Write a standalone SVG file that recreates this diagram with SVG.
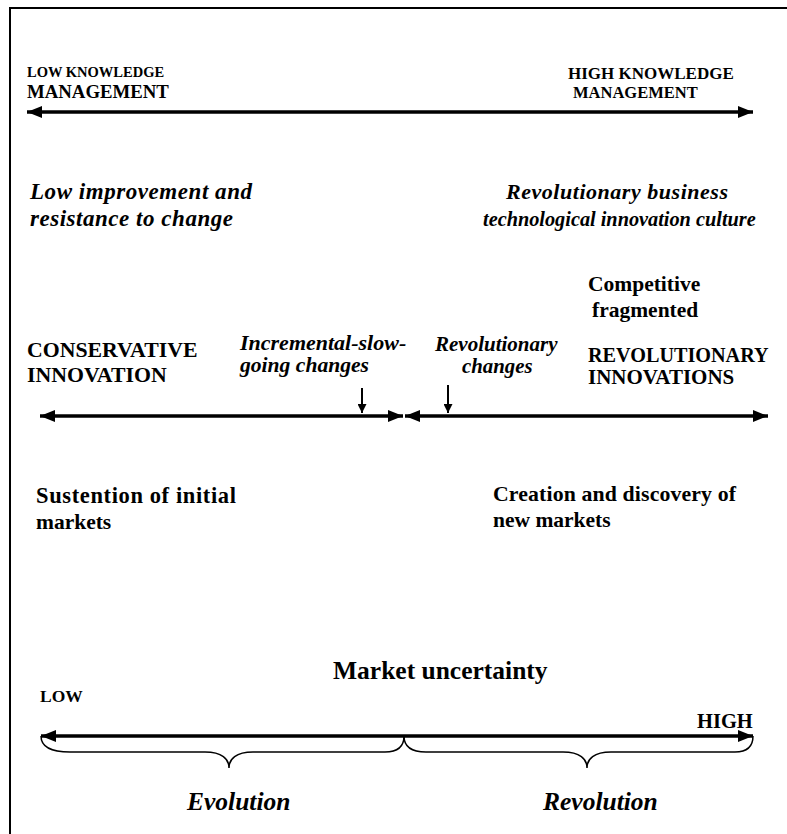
<svg xmlns="http://www.w3.org/2000/svg" width="787" height="834" viewBox="0 0 787 834">
<defs>
<style>
text{font-family:"Liberation Serif","Times New Roman",serif;font-weight:bold;fill:#000}
.i{font-style:italic}
.ln{stroke:#000;fill:none}
</style>
<marker id="ah" viewBox="0 0 10 10" refX="10" refY="5" markerWidth="4.3" markerHeight="3.4" orient="auto-start-reverse" markerUnits="strokeWidth" preserveAspectRatio="none"><path d="M0,0 L10,5 L0,10 z" fill="#000"/></marker>
<marker id="sh" viewBox="0 0 10 10" refX="10" refY="5" markerWidth="4.5" markerHeight="4.5" orient="auto" markerUnits="strokeWidth" preserveAspectRatio="none"><path d="M0,0 L10,5 L0,10 z" fill="#000"/></marker>
</defs>
<rect width="787" height="834" fill="#fff"/>
<path class="ln" d="M10,834 L10,8 L787,8" stroke-width="2"/>
<g id="connectors">
<line class="ln" x1="27" y1="112" x2="753" y2="112" stroke-width="3.5" marker-start="url(#ah)" marker-end="url(#ah)"/>
<line class="ln" x1="40" y1="416" x2="403" y2="416" stroke-width="3.5" marker-start="url(#ah)" marker-end="url(#ah)"/>
<line class="ln" x1="405" y1="416" x2="768" y2="416" stroke-width="3.5" marker-start="url(#ah)" marker-end="url(#ah)"/>
<line class="ln" x1="362" y1="388" x2="362" y2="413" stroke-width="2" marker-end="url(#sh)"/>
<line class="ln" x1="448" y1="385" x2="448" y2="413" stroke-width="2" marker-end="url(#sh)"/>
<line class="ln" x1="41" y1="736" x2="753" y2="736" stroke-width="3.5" marker-start="url(#ah)" marker-end="url(#ah)"/>
<path class="ln" stroke-width="1.5" d="M41,736 C41,747 52,752 70,752 L205,752 C222,752 229,759 229,768 C229,759 236,752 253,752 L385,752 C398,752 404,746 404,736"/>
<path class="ln" stroke-width="1.5" d="M404,736 C404,746 411,752 426,752 L563,752 C580,752 587,759 587,768 C587,759 594,752 611,752 L735,752 C748,752 753,746 753,736"/>
</g>
<g id="low-km"><text x="27" y="77" font-size="14.5">LOW KNOWLEDGE</text><text x="27" y="98" font-size="18.8">MANAGEMENT</text></g>
<g id="high-km"><text x="568" y="79" font-size="17">HIGH KNOWLEDGE</text><text x="573" y="98" font-size="16.5">MANAGEMENT</text></g>
<g id="low-improvement"><text class="i" x="30" y="199" font-size="23" textLength="222">Low improvement and</text><text class="i" x="30" y="226" font-size="23" textLength="203">resistance to change</text></g>
<g id="revolutionary-culture"><text class="i" x="506" y="199" font-size="22" textLength="222">Revolutionary business</text><text class="i" x="483" y="226" font-size="20.3">technological innovation culture</text></g>
<g id="competitive"><text x="588" y="291" font-size="21.5">Competitive</text><text x="592" y="317" font-size="21.5">fragmented</text></g>
<g id="conservative"><text x="27" y="357" font-size="21.8">CONSERVATIVE</text><text x="27" y="382" font-size="21.8">INNOVATION</text></g>
<g id="incremental"><text class="i" x="240" y="350" font-size="22">Incremental-slow-</text><text class="i" x="240" y="372" font-size="21.6">going changes</text></g>
<g id="revolutionary-changes"><text class="i" x="435" y="351" font-size="21">Revolutionary</text><text class="i" x="462" y="373" font-size="20.8">changes</text></g>
<g id="revolutionary-innovations"><text x="588" y="362" font-size="20.2">REVOLUTIONARY</text><text x="588" y="384" font-size="21">INNOVATIONS</text></g>
<g id="sustention"><text x="36" y="503" font-size="22.5" textLength="200">Sustention of initial</text><text x="36" y="529" font-size="21.5">markets</text></g>
<g id="creation"><text x="493" y="501" font-size="21.8" textLength="243">Creation and discovery of</text><text x="493" y="527" font-size="21.5">new markets</text></g>
<g id="market-uncertainty"><text x="333" y="679" font-size="25.5">Market uncertainty</text></g>
<g id="low"><text x="40" y="702" font-size="17.5">LOW</text></g>
<g id="high"><text x="697" y="728" font-size="20.5">HIGH</text></g>
<g id="evolution"><text class="i" x="187" y="810" font-size="25.5">Evolution</text></g>
<g id="revolution"><text class="i" x="543" y="810" font-size="25.5">Revolution</text></g>
</svg>
